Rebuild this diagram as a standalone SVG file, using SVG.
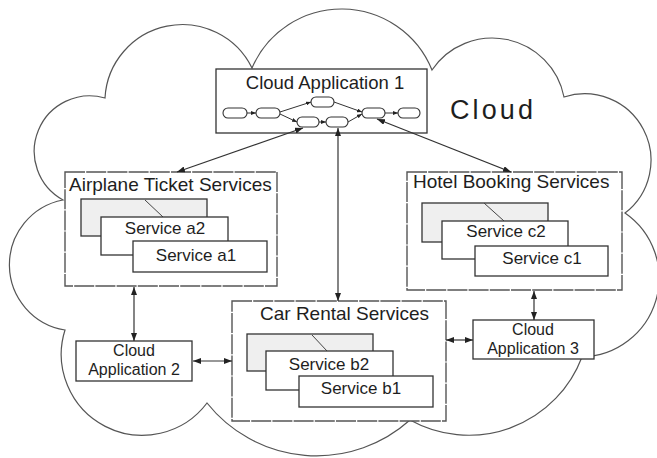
<svg xmlns="http://www.w3.org/2000/svg" width="657" height="458" viewBox="0 0 657 458">
<style>
text{font-family:"Liberation Sans",Arial,sans-serif;fill:#1e1e1e}
.cloud{fill:#fff;stroke:#555;stroke-width:1.2}
.grp{fill:#fff;stroke:#555;stroke-width:1.4;stroke-dasharray:20 1.2}
.box{fill:#fff;stroke:#333;stroke-width:1.3}
.back{fill:#efefef;stroke:#333;stroke-width:1.3}
.pill{fill:#fff;stroke:#333;stroke-width:1.1}
.conn{fill:none;stroke:#333;stroke-width:1.2}
.fl{fill:none;stroke:#333;stroke-width:1}
.diag{stroke:#444;stroke-width:1}
.t19{font-size:19px}
.t17{font-size:17px;text-anchor:middle}
.t16{font-size:16px;text-anchor:middle}
</style>
<defs>
<marker id="ah" viewBox="0 0 8 6" refX="8" refY="3" markerWidth="8" markerHeight="6" markerUnits="userSpaceOnUse" orient="auto-start-reverse"><path d="M0,0 L8,3 L0,6 z" fill="#222"/></marker>
<marker id="sah" viewBox="0 0 5 4" refX="5" refY="2" markerWidth="5" markerHeight="4" markerUnits="userSpaceOnUse" orient="auto"><path d="M0,0 L5,2 L0,4 z" fill="#222"/></marker>
</defs>
<rect width="657" height="458" fill="#fff"/>
<g id="cloud">
<path class="cloud" d="M105,98 A77.5,77.5 0 0 1 252,68 A97.5,97.5 0 0 1 432,70 A73,73 0 0 1 564,97 A66.5,66.5 0 0 1 625,213 A79,79 0 0 1 582,357 A121,121 0 0 1 410,420 A140,140 0 0 1 207,403 A81,81 0 0 1 65,330 A66,66 0 0 1 63,200 A55.5,55.5 0 0 1 105,98 Z"/>
<text x="450" y="119" font-size="27" textLength="83" lengthAdjust="spacing">Cloud</text>
</g>
<g id="ca1">
<rect class="box" x="216" y="69" width="211" height="64"/>
<text x="325" y="89" font-size="18.5" text-anchor="middle">Cloud Application 1</text>
<rect class="pill" x="223" y="108" width="24" height="10" rx="5"/>
<rect class="pill" x="256" y="108" width="24" height="10" rx="5"/>
<rect class="pill" x="311" y="97" width="23" height="10" rx="5"/>
<rect class="pill" x="297" y="117" width="22" height="10" rx="5"/>
<rect class="pill" x="326" y="117" width="22" height="10" rx="5"/>
<rect class="pill" x="362" y="108" width="23" height="10" rx="5"/>
<rect class="pill" x="398" y="108" width="22" height="10" rx="5"/>
<g marker-end="url(#sah)">
<line class="fl" x1="247" y1="113" x2="256" y2="113"/>
<line class="fl" x1="280" y1="112" x2="311" y2="102"/>
<line class="fl" x1="280" y1="114" x2="297" y2="122"/>
<line class="fl" x1="319" y1="122" x2="326" y2="122"/>
<line class="fl" x1="334" y1="102" x2="362" y2="112"/>
<line class="fl" x1="348" y1="122" x2="362" y2="114"/>
<line class="fl" x1="385" y1="113" x2="398" y2="113"/>
</g>
</g>
<g id="airplane">
<rect class="grp" x="65" y="172" width="212" height="114"/>
<text class="t19" x="69" y="191">Airplane Ticket Services</text>
<rect class="back" x="81" y="199" width="126" height="37"/>
<line class="diag" x1="145" y1="200" x2="163" y2="217"/>
<rect class="box" x="101" y="217" width="127" height="38"/>
<text class="t17" x="165" y="234">Service a2</text>
<rect class="box" x="133" y="241" width="134" height="31"/>
<text class="t17" x="196" y="261">Service a1</text>
</g>
<g id="hotel">
<rect class="grp" x="407" y="172" width="215" height="118"/>
<text class="t19" x="413" y="188">Hotel Booking Services</text>
<rect class="back" x="422" y="203" width="126" height="39"/>
<line class="diag" x1="484" y1="203" x2="504" y2="221"/>
<rect class="box" x="442" y="221" width="126" height="38"/>
<text class="t17" x="506" y="237">Service c2</text>
<rect class="box" x="475" y="246" width="133" height="30"/>
<text class="t17" x="542" y="264">Service c1</text>
</g>
<g id="car">
<rect class="grp" x="232" y="301" width="214" height="120"/>
<text class="t19" x="260" y="320">Car Rental Services</text>
<rect class="back" x="247" y="334" width="126" height="37"/>
<line class="diag" x1="312" y1="335" x2="327" y2="351"/>
<rect class="box" x="266" y="351" width="127" height="39"/>
<text class="t17" x="329" y="370">Service b2</text>
<rect class="box" x="299" y="376" width="134" height="31"/>
<text class="t17" x="361" y="394">Service b1</text>
</g>
<g id="ca2">
<rect class="box" x="76" y="341" width="116" height="40"/>
<text class="t16" x="134" y="356">Cloud</text>
<text class="t16" x="134" y="375">Application 2</text>
</g>
<g id="ca3">
<rect class="box" x="473" y="320" width="121" height="39"/>
<text class="t16" x="533" y="335">Cloud</text>
<text class="t16" x="533" y="354">Application 3</text>
</g>
<g id="connectors" marker-start="url(#ah)" marker-end="url(#ah)">
<line class="conn" x1="303" y1="128" x2="177" y2="172"/>
<line class="conn" x1="338" y1="128" x2="338" y2="301"/>
<line class="conn" x1="377" y1="119" x2="511" y2="172"/>
<line class="conn" x1="134" y1="287" x2="134" y2="341"/>
<line class="conn" x1="193" y1="361" x2="232" y2="361"/>
<line class="conn" x1="446" y1="340" x2="473" y2="340"/>
<line class="conn" x1="534" y1="291" x2="534" y2="320"/>
</g>
</svg>
